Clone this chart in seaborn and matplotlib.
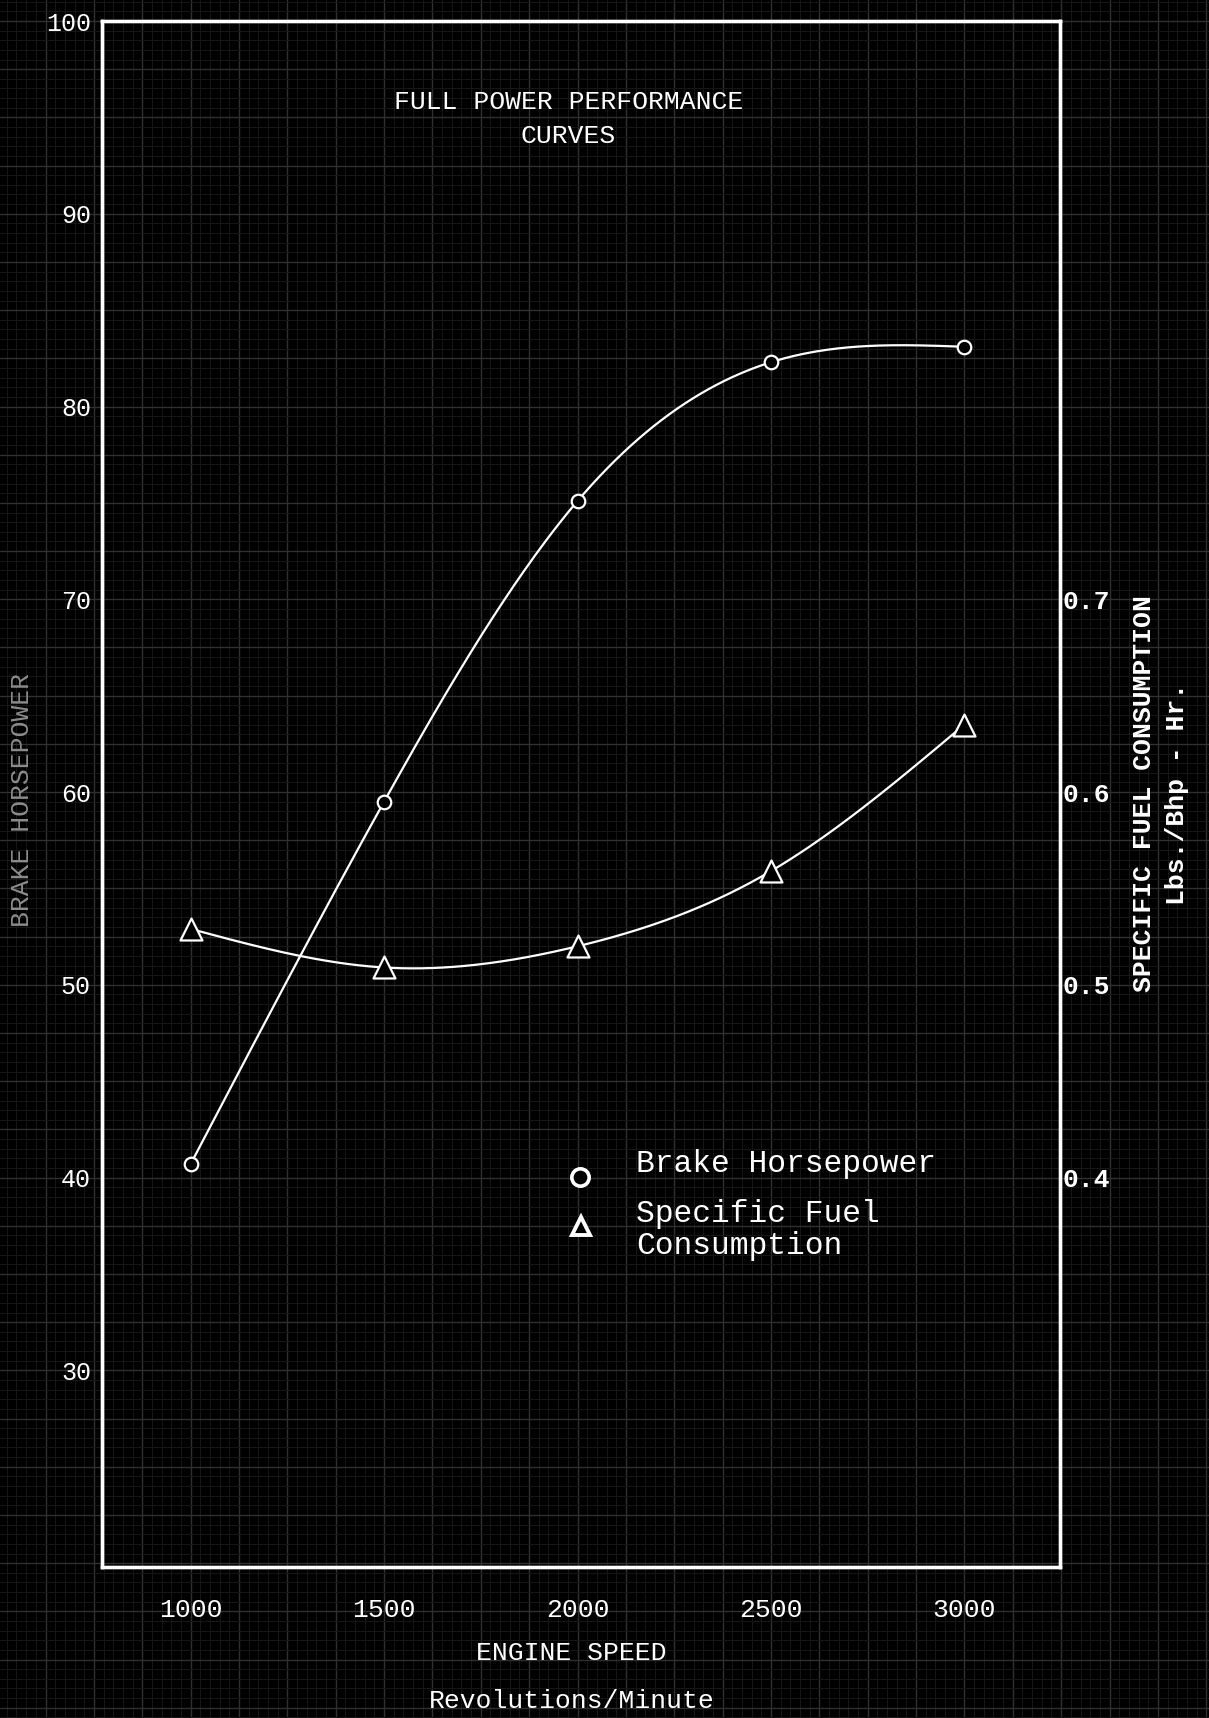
import numpy as np
import pandas as pd
import matplotlib
matplotlib.use("Agg")
import matplotlib.pyplot as plt
from matplotlib.ticker import MultipleLocator
import seaborn as sns

# values
rpm = [1000, 1500, 2000, 2500, 3000]
bhp = [40.7, 59.5, 75.1, 82.3, 83.1]
sfc = [0.529, 0.509, 0.520, 0.559, 0.635]

rpm_ticks = [1000, 1500, 2000, 2500, 3000]
bhp_ticks = [30, 40, 50, 60, 70, 80, 90, 100]
sfc_ticks = [0.4, 0.5, 0.6, 0.7]


def smooth(x, y, n=300):
    # natural cubic spline through the points (french-curve look)
    x = np.asarray(x, float)
    y = np.asarray(y, float)
    k = len(x)
    h = np.diff(x)
    A = np.zeros((k, k))
    r = np.zeros(k)
    A[0, 0] = A[-1, -1] = 1
    for i in range(1, k - 1):
        A[i, i - 1] = h[i - 1]
        A[i, i] = 2 * (h[i - 1] + h[i])
        A[i, i + 1] = h[i]
        r[i] = 6 * ((y[i + 1] - y[i]) / h[i] - (y[i] - y[i - 1]) / h[i - 1])
    m = np.linalg.solve(A, r)
    xs = np.linspace(x[0], x[-1], n)
    j = np.clip(np.searchsorted(x, xs) - 1, 0, k - 2)
    t0 = xs - x[j]
    t1 = x[j + 1] - xs
    hj = h[j]
    ys = (m[j] * t1**3 + m[j + 1] * t0**3) / (6 * hj) \
        + (y[j] / hj - m[j] * hj / 6) * t1 + (y[j + 1] / hj - m[j + 1] * hj / 6) * t0
    return xs, ys


df = pd.DataFrame({"rpm": rpm, "bhp": bhp, "sfc": sfc})
xs, hp_s = smooth(rpm, bhp)
_, sfc_s = smooth(rpm, sfc)
curves = pd.DataFrame({"rpm": xs, "bhp": hp_s, "sfc": sfc_s})

sns.set_style("dark", {"axes.facecolor": "black", "figure.facecolor": "black"})
plt.rcParams["font.family"] = ["Liberation Mono", "DejaVu Sans"]

W, H = 1209, 1718
fig = plt.figure(figsize=(W / 100, H / 100), dpi=100)
fig.patch.set_facecolor("black")

bg = fig.add_axes([0, 0, 1, 1], zorder=0)
ax = fig.add_axes([102 / W, 1 - 1567 / H, (1060 - 102) / W, (1567 - 21) / H], zorder=2)
ax.set_facecolor("none")
ax.set_xlim(771, 3247)
ax.set_ylim(19.8, 100)

# graph paper behind everything, aligned with the data scale
pos = ax.get_position()
x0, x1 = ax.get_xlim()
y0, y1 = ax.get_ylim()
sx = (x1 - x0) / pos.width
sy = (y1 - y0) / pos.height
bg.set_xlim(x0 - pos.x0 * sx, x0 + (1 - pos.x0) * sx)
bg.set_ylim(y0 - pos.y0 * sy, y0 + (1 - pos.y0) * sy)
bg.set_facecolor("black")
bg.xaxis.set_major_locator(MultipleLocator(125))
bg.xaxis.set_minor_locator(MultipleLocator(25))
bg.yaxis.set_major_locator(MultipleLocator(2.5))
bg.yaxis.set_minor_locator(MultipleLocator(0.5))
bg.grid(which="major", color="#303030", lw=1.0)
bg.grid(which="minor", color="#171717", lw=0.7)
bg.tick_params(which="both", length=0, labelbottom=False, labelleft=False)
for s in bg.spines.values():
    s.set_visible(False)

ax2 = ax.twinx()
ax2.set_ylim(y0 / 100, y1 / 100)

sns.lineplot(data=curves, x="rpm", y="bhp", ax=ax, color="white", lw=1.6)
sns.scatterplot(data=df, x="rpm", y="bhp", ax=ax, marker="o", s=95,
                facecolor="black", edgecolor="white", linewidth=1.6, zorder=5)
sns.lineplot(data=curves, x="rpm", y="sfc", ax=ax2, color="white", lw=1.6)
sns.scatterplot(data=df, x="rpm", y="sfc", ax=ax2, marker="^", s=250,
                facecolor="black", edgecolor="white", linewidth=1.6, zorder=5)

for a in (ax, ax2):
    a.grid(False)
    for s in a.spines.values():
        s.set_color("white")
        s.set_linewidth(2.4)

ax.set_xticks(rpm_ticks)
ax.set_yticks(bhp_ticks)
ax.tick_params(axis="x", length=0, pad=22, labelcolor="white", labelsize=19)
ax.tick_params(axis="y", length=0, pad=8, labelcolor="white", labelsize=18)
ax2.set_yticks(sfc_ticks)
ax2.set_yticklabels([f"{v:.1f}" for v in sfc_ticks], fontweight="bold")
ax2.tick_params(axis="y", length=0, pad=2, labelcolor="white", labelsize=19)

ax.set_xlabel("ENGINE SPEED\nRevolutions/Minute", color="white", fontsize=19,
              linespacing=2.25)
ax.xaxis.set_label_coords(0.49, -0.048)
ax.xaxis.label.set_va("top")

ax.set_ylabel("BRAKE HORSEPOWER", color="#8c8c8c", fontsize=19)
ax.yaxis.label.set_va("center")
ax.yaxis.set_label_coords(-0.0835, 0.496)

ax2.set_ylabel("SPECIFIC FUEL CONSUMPTION\nLbs./Bhp - Hr.", color="white",
               fontsize=19, fontweight="bold", linespacing=1.45, rotation=90)
ax2.yaxis.label.set_va("center")
ax2.yaxis.set_label_coords(1.105, 0.50)

ax.text(0.487, 0.9366, "FULL POWER PERFORMANCE\nCURVES", transform=ax.transAxes,
        ha="center", va="center", color="white", fontsize=19, linespacing=1.5)

# key, placed by hand like the typed original
ax.plot([0.499], [0.2523], transform=ax.transAxes, ls="none", marker="o", ms=12.5,
        mfc="black", mec="white", mew=2.6, clip_on=False, zorder=6)
ax.plot([0.500], [0.2206], transform=ax.transAxes, ls="none", marker="^", ms=13,
        mfc="black", mec="white", mew=2.8, clip_on=False, zorder=6)
ax.text(0.5574, 0.2607, "Brake Horsepower", transform=ax.transAxes,
        ha="left", va="center", color="white", fontsize=22.5)
ax.text(0.5574, 0.2180, "Specific Fuel\nConsumption", transform=ax.transAxes,
        ha="left", va="center", color="white", fontsize=22.5, linespacing=1.05)

fig.savefig("out.png", dpi=100, facecolor="black")
